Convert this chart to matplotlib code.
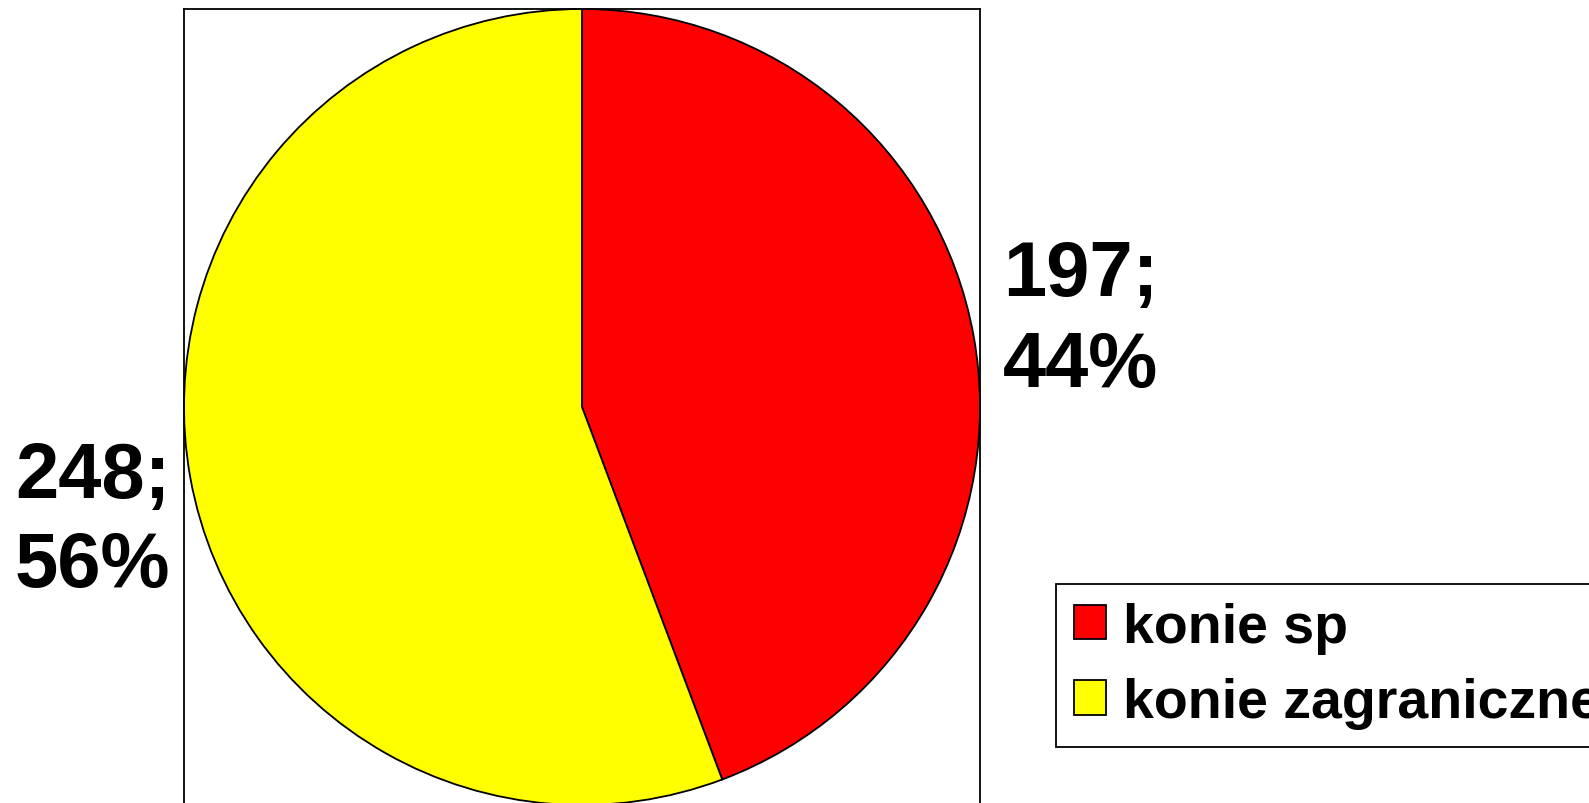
import matplotlib
matplotlib.use("Agg")
import matplotlib.pyplot as plt
from matplotlib.patches import Patch

plt.rcParams["font.family"] = ["Liberation Sans", "DejaVu Sans"]
plt.rcParams["font.weight"] = "bold"

# ---- data -----------------------------------------------------------------
labels = ["konie sp", "konie zagraniczne"]
counts = [197, 248]
colors = ["#ff0000", "#ffff00"]

W, H = 1589, 804
fig = plt.figure(figsize=(W / 100, H / 100), dpi=100)

# axes square: x 184..980, y 10..806 (pixels from top)
ax = fig.add_axes([184 / W, (H - 806) / H, 796 / W, 796 / H])
wedges, _ = ax.pie(counts, colors=colors, startangle=90, counterclock=False,
                   wedgeprops=dict(edgecolor="black", linewidth=1.3))
ax.set_xlim(-1, 1)
ax.set_ylim(-1, 1)
ax.set_aspect("equal")
ax.set_frame_on(True)
for s in ax.spines.values():
    s.set_linewidth(1.3)
    s.set_color("black")
ax.set_xticks([]); ax.set_yticks([])

total = sum(counts)
lab = [f"{c};\n{round(100 * c / total)}%" for c in counts]

# data labels (baseline of the 2nd line given in pixels)
fig.text(1003 / W, (H - 387) / H, lab[0], ha="left", va="baseline",
         fontsize=56, weight="bold", linespacing=1.32)
fig.text(15 / W, (H - 587) / H, lab[1], ha="left", va="baseline",
         fontsize=56, weight="bold", linespacing=1.28)

# legend
handles = [Patch(facecolor=c, edgecolor="black", linewidth=1.3) for c in colors]
leg = fig.legend(handles, labels, loc="upper left",
                 bbox_to_anchor=(1056 / W, (H - 585) / H),
                 prop=dict(weight="bold", size=40),
                 frameon=True, fancybox=False, edgecolor="black",
                 framealpha=1, borderpad=0.32, borderaxespad=0,
                 handlelength=0.58, handleheight=0.58, handletextpad=0.3,
                 labelspacing=0.42)
leg.get_frame().set_linewidth(1.3)

fig.savefig("out.png", dpi=100, facecolor="white")
